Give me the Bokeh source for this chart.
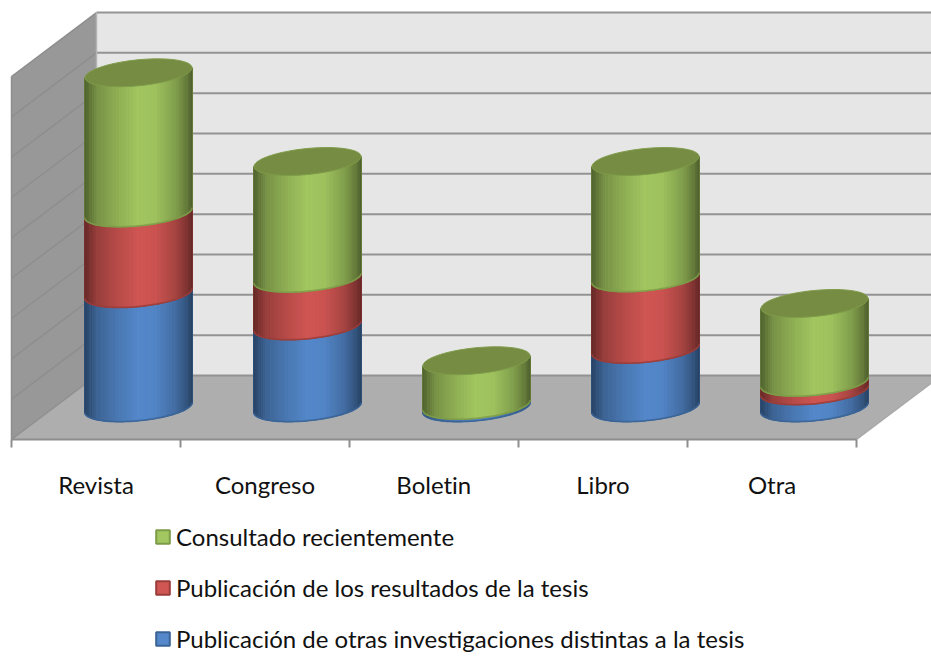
import numpy as np
from bokeh.plotting import figure
from bokeh.models import Legend, LegendItem, LinearAxis, FixedTicker, CustomJSTickFormatter, ColumnDataSource, Range1d
from bokeh.embed import file_html
from bokeh.resources import INLINE

# ---- data (in value-axis units)
categories = ["Revista", "Congreso", "Boletin", "Libro", "Otra"]
otras = [2.83, 2.03, 0.06, 1.45, 0.42]
resultados = [2.00, 1.18, 0.0, 1.77, 0.21]
consultado = [3.47, 2.89, 1.10, 2.88, 1.95]
label_ticks = [0.5, 1.5, 2.5, 3.5, 4.5]
grid_values = list(range(10))
series_names = ["Consultado recientemente", "Publicación de los resultados de la tesis",
                "Publicación de otras investigaciones distintas a la tesis"]

# ---- scale: pixels per unit and the oblique depth of the box
PX_X, PX_Y = 169.0, 40.33
DX, DY = 85 / PX_X, 64 / PX_Y
A = 53.5 / PX_X          # radius in x
B = 13.0 / PX_Y          # minor half-axis in y
S = 5.0 / PX_Y           # tilt across the radius
W, H = 931, 657
LEFT, BASE = 11, 439     # frame position of the front-left floor corner

p = figure(width=W, height=H, output_backend="svg", toolbar_location=None,
           x_axis_type=None, y_axis_type=None, min_border=0, outline_line_color=None,
           background_fill_color="white", border_fill_color="white",
           stylesheets=[":host{font-variant-ligatures:none}"])
p.x_range = Range1d(-LEFT / PX_X, (W - LEFT) / PX_X)
p.y_range = Range1d((BASE - H) / PX_Y, BASE / PX_Y)
p.grid.visible = False

top = grid_values[-1]
n_cat = len(categories)
wall_edge = "#8E8E8E"
# back wall, floor, side wall
p.patch([DX, DX + n_cat, DX + n_cat, DX], [DY, DY, DY + top, DY + top], fill_color="#E6E6E6", line_color=None)
p.patch([0, DX, DX + n_cat, n_cat], [0, DY, DY, 0], fill_color="#AEAEAE", line_color=None)
p.patch([0, DX, DX, 0], [0, DY, DY + top, top], fill_color="#989898", line_color=None)
# grid
p.multi_line([[DX, DX + n_cat] for _ in grid_values], [[DY + g, DY + g] for g in grid_values],
             line_color=wall_edge, line_width=2, line_alpha=0.95)
p.multi_line([[0, DX] for _ in grid_values], [[g, DY + g] for g in grid_values],
             line_color=wall_edge, line_width=1.5)
p.line([0, 0], [0, top], line_color=wall_edge, line_width=1.5)
p.line([DX, DX], [DY, DY + top], line_color="#B4B4B4", line_width=1.5)
p.line([n_cat, n_cat + DX], [0, DY], line_color="#A8A8A8", line_width=1.5)

SHADE_U = [0.0, 0.03, 0.12, 0.3, 0.5, 0.66, 0.85, 0.96, 1.0]
SHADE_F = [0.50, 0.56, 0.74, 0.88, 1.0, 0.98, 0.80, 0.60, 0.50]


def shade(hex_c, f):
    r, g, b = int(hex_c[1:3], 16), int(hex_c[3:5], 16), int(hex_c[5:7], 16)
    return "#%02x%02x%02x" % (int(r * f), int(g * f), int(b * f))


def arc(cx, cy, n=48):
    t = np.linspace(np.pi, 0, n)
    return cx + A * np.cos(t), cy + S * np.cos(t) - B * np.sin(t)


def ellipse(cx, cy, n=80):
    t = np.linspace(0, 2 * np.pi, n)
    return cx + A * np.cos(t), cy + S * np.cos(t) - B * np.sin(t)


bases = np.zeros(n_cat)
series = [(otras, "#5488CA", "#3A6496", series_names[2]),
          (resultados, "#CF5653", "#9A3D3A", series_names[1]),
          (consultado, "#A2C660", "#7E9C48", series_names[0])]
legend_renderers = {}
for vals, col, edge, name in series:
    sil_x, sil_y, st_x, st_y, st_c, rim_x, rim_y = [], [], [], [], [], [], []
    for i, v in enumerate(vals):
        if v <= 0:
            continue
        cx = i + 0.5 + DX / 2
        y0 = DY / 2 + bases[i]
        y1 = y0 + v
        ax, ay = arc(cx, y0)
        tx, ty = arc(cx, y1)
        sil_x.append(list(ax) + list(tx[::-1]))
        sil_y.append(list(ay) + list(ty[::-1]))
        for k in range(len(ax) - 1):
            st_x.append([ax[k], ax[k + 1], ax[k + 1], ax[k]])
            st_y.append([ay[k], ay[k + 1], ty[k + 1], ty[k]])
            u = ((ax[k] + ax[k + 1]) / 2 - (cx - A)) / (2 * A)
            st_c.append(shade(col, float(np.interp(u, SHADE_U, SHADE_F))))
        rim_x.append(list(ax))
        rim_y.append(list(ay))
    r = p.patches(sil_x, sil_y, fill_color=col, line_color=edge, line_width=2)
    legend_renderers[name] = r
    src = ColumnDataSource(dict(xs=st_x, ys=st_y, c=st_c))
    p.patches("xs", "ys", source=src, fill_color="c", line_color="c", line_width=0.6)
    p.multi_line(rim_x, rim_y, line_color=edge, line_width=1.5, line_alpha=0.8)
    bases = bases + np.array(vals)

# caps
cap_x, cap_y = [], []
for i in range(n_cat):
    ex, ey = ellipse(i + 0.5 + DX / 2, DY / 2 + bases[i])
    cap_x.append(list(ex))
    cap_y.append(list(ey))
p.patches(cap_x, cap_y, fill_color="#758C42", line_color="#7F9C4A", line_width=1)

# axis
ax = LinearAxis(fixed_location=0, bounds=(0, n_cat))
ax.ticker = FixedTicker(ticks=label_ticks, minor_ticks=list(range(n_cat + 1)))
ax.formatter = CustomJSTickFormatter(args=dict(t=label_ticks, n=categories),
                                     code="return n[t.indexOf(tick)] ?? ''")
ax.axis_line_color = wall_edge
ax.axis_line_width = 2
ax.major_tick_line_color = None
ax.major_tick_in = 0
ax.major_tick_out = 0
ax.minor_tick_line_color = wall_edge
ax.minor_tick_line_width = 2
ax.minor_tick_in = 0
ax.minor_tick_out = 8
ax.major_label_text_font = "Lato"
ax.major_label_text_font_size = "24px"
ax.major_label_text_color = "#111111"
ax.major_label_standoff = 22
p.add_layout(ax, "below")

# legend
items = [LegendItem(label=nm, renderers=[legend_renderers[nm]]) for nm in series_names]
leg = Legend(items=items, location=(154, 4), orientation="vertical", background_fill_alpha=0,
             border_line_color=None, padding=0, margin=0, glyph_width=17, glyph_height=17,
             label_standoff=5, spacing=22, label_text_font="Lato", label_text_font_size="24px",
             label_text_color="#111111", label_height=28)
p.add_layout(leg, "center")

open("out.html", "w").write(file_html(p, INLINE))
